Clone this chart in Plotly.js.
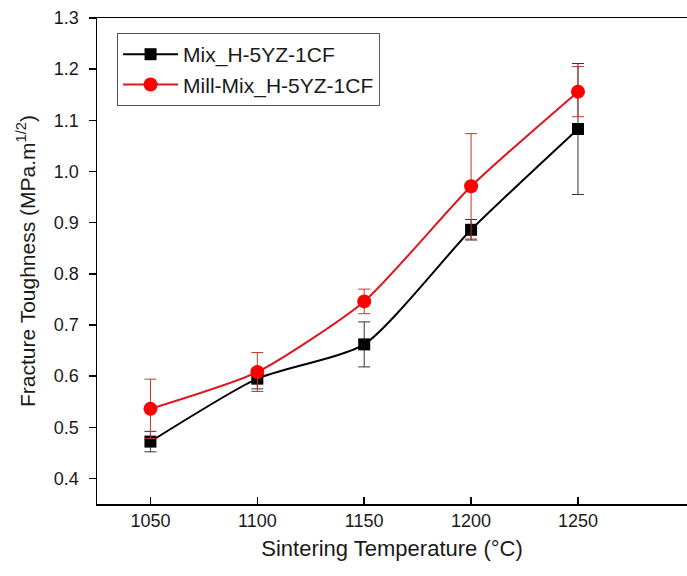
<!DOCTYPE html>
<html>
<head>
<meta charset="utf-8">
<script src="https://cdn.plot.ly/plotly-3.0.1.min.js"></script>
<style>html,body{margin:0;padding:0;background:#fff;}#chart{width:687px;height:576px;}</style>
</head>
<body>
<div id="chart"></div>
<script>
const temps = [1050, 1100, 1150, 1200, 1250];
const mixNames = "Mix_H-5YZ-1CF";
const millNames = "Mill-Mix_H-5YZ-1CF";
const mixValues = [0.472, 0.595, 0.662, 0.886, 1.083];
const mixErrors = [0.020, 0.020, 0.044, 0.020, 0.128];
const millValues = [0.536, 0.608, 0.746, 0.971, 1.156];
const millErrors = [0.058, 0.038, 0.024, 0.103, 0.049];
const yTicks = [0.4, 0.5, 0.6, 0.7, 0.8, 0.9, 1.0, 1.1, 1.2, 1.3];
const yTickText = ["0.4", "0.5", "0.6", "0.7", "0.8", "0.9", "1.0", "1.1", "1.2", "1.3"];

const font = "Liberation Sans, Arial, sans-serif";

const traces = [
  {
    x: temps, y: mixValues, name: mixNames, type: "scatter", mode: "lines+markers",
    line: {color: "#000000", width: 2, shape: "spline", smoothing: 0.6},
    marker: {symbol: "square", size: 12, color: "#000000"},
    error_y: {type: "data", array: mixErrors, visible: true, color: "#333333", thickness: 1, width: 6}
  },
  {
    x: temps, y: millValues, name: millNames, type: "scatter", mode: "lines+markers",
    line: {color: "#e0141e", width: 2, shape: "spline", smoothing: 0.6},
    marker: {symbol: "circle", size: 14, color: "#ff0000"},
    error_y: {type: "data", array: millErrors, visible: true, color: "#c0392b", thickness: 1, width: 6}
  }
];

const layout = {
  width: 687, height: 576,
  margin: {l: 97, r: 0, t: 18, b: 72},
  paper_bgcolor: "#ffffff", plot_bgcolor: "#ffffff",
  font: {family: font, color: "#1a1a1a", size: 18},
  showlegend: true,
  legend: {
    x: 0.034, y: 0.969, xanchor: "left", yanchor: "top",
    bordercolor: "#555555", borderwidth: 1, bgcolor: "#ffffff",
    font: {family: font, size: 21, color: "#1a1a1a"},
    itemwidth: 55
  },
  xaxis: {
    range: [1025, 1301],
    tickvals: temps, ticktext: temps.map(String),
    ticks: "inside", ticklen: 7, tickwidth: 1.5, tickcolor: "#000",
    showline: true, linecolor: "#000", linewidth: 1.5, mirror: true,
    showgrid: false, zeroline: false,
    tickfont: {family: font, size: 18, color: "#1a1a1a"},
    title: {text: "Sintering Temperature (°C)", font: {family: font, size: 22, color: "#1a1a1a"}, standoff: 10}
  },
  yaxis: {
    range: [0.35, 1.3],
    tickvals: yTicks, ticktext: yTickText,
    ticks: "outside", ticklen: 7, tickwidth: 1.5, tickcolor: "#000",
    ticklabelstandoff: 6,
    showline: true, linecolor: "#000", linewidth: 1.5,
    showgrid: false, zeroline: false,
    tickfont: {family: font, size: 18, color: "#1a1a1a"},
    title: {text: "Fracture Toughness (MPa.m<sup>1/2</sup>)", font: {family: font, size: 21, color: "#1a1a1a"}, standoff: 12}
  }
};

Plotly.newPlot("chart", traces, layout, {displayModeBar: false, staticPlot: true});
</script>
</body>
</html>
